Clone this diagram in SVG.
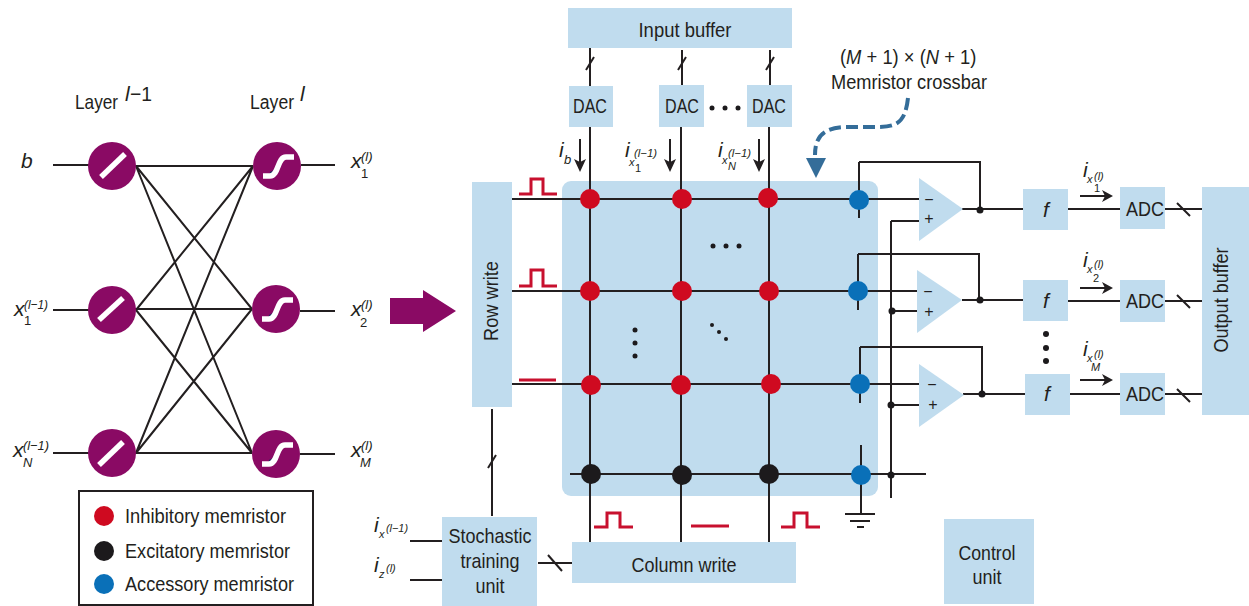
<svg xmlns="http://www.w3.org/2000/svg" width="1249" height="606" viewBox="0 0 1249 606">
<style>
text{font-family:"Liberation Sans",Arial,sans-serif;fill:#231f20;font-size:21px}
.c{text-anchor:middle}
.i{font-style:italic}
.box{fill:#c0dcee}
.l{fill:none;stroke:#231f20;stroke-width:2}
.p{fill:none;stroke:#c8102e;stroke-width:3}
.n{fill:#8a0a64}
.g{fill:none;stroke:#fff;stroke-width:5.5}
.sh{fill:none;stroke:#1c2a5c;stroke-width:2}
.r{fill:#cf0a20}.k{fill:#1c1a1c}.b{fill:#0a70b8}
.s{font-size:11px}.m{font-size:13px}.o{font-size:16px}
</style>
<rect width="1249" height="606" fill="#fff"/>
<g id="crossbar"><rect class="box" x="562" y="181" width="316" height="315" rx="9"/></g>
<g id="connectors">
<path class="l" d="M53 165H112M134 166H253M301 165H335M53 310H112M134 309H252M300 311H335M53 453H112M134 453H252M300 454H335"/>
<path class="l" d="M136 166L252 309M136 166L252 453M136 310L253 166M136 310L252 453M136 453L253 166M136 453L252 309"/>
<path class="l" d="M512 199H920M512 291H918M512 384H920M570 474H926"/>
<path class="l" d="M590 105V542M681 105V542M769 105V542M590 48V88M682 50V88M770 50V88"/>
<path class="l" d="M859 162V218M859 162H980V209M858 254V310M858 254H979V300M860 347V403M860 347H982V394M861 445V514"/>
<path class="l" d="M891 221H919M891 221V498M891 311H917M891 405H919"/>
<path class="l" d="M962 209H1023M1068 209H1120M1165 209H1202M962 300H1023M1068 301H1120M1165 301H1202M963 394H1025M1070 394H1120M1165 394H1202"/>
<path class="l" d="M845 514H875M850 521H870M857 527H864"/>
<path class="l" d="M492 409V516M410 541H442M410 580H442M538 563H572"/>
<path class="l" d="M586 70L594 57M678 70L686 57M766 70L774 57M488 468L496 455M548 555L562 571M1177 203L1190 216M1177 295L1190 308M1177 389L1190 402"/>
<path class="l" d="M580 139V165M670 139V165M759 139V165M1080 196H1106M1080 288H1106M1080 380H1106"/>
<path d="M574 159L580 162L586 159L580 172ZM664 159L670 162L676 159L670 172ZM753 159L759 162L765 159L759 172ZM1102 190L1105 196L1102 202L1113 196ZM1102 282L1105 288L1102 294L1113 288ZM1102 374L1105 380L1102 386L1113 380Z" fill="#231f20"/>
<path class="p" d="M519 194H531V179H543V194H557M519 286H531V270H543V286H557M519 380H556M594 527H607V513H620V527H633M691 526H729M781 527H794V513H807V527H820"/>
<path d="M908 98C905 125 895 127 875 127H845C825 128 815 135 815 155" fill="none" stroke="#346d99" stroke-width="4" stroke-dasharray="12 5"/>
<path d="M806 158H826L816 178Z" fill="#346d99"/>
<path d="M390 298H423V290L456 311L423 332V324H390Z" fill="#8a0a64"/>
</g>
<g id="input-buffer"><rect class="box" x="568" y="8" width="224" height="40"/><text class="c" x="685" y="37" textLength="93" lengthAdjust="spacingAndGlyphs">Input buffer</text></g>
<g id="dac-1"><rect class="box" x="569" y="86" width="44" height="41"/><text class="c" x="590" y="113" textLength="34" lengthAdjust="spacingAndGlyphs">DAC</text></g>
<g id="dac-2"><rect class="box" x="659" y="85" width="45" height="42"/><text class="c" x="682" y="113" textLength="34" lengthAdjust="spacingAndGlyphs">DAC</text></g>
<g id="dac-3"><rect class="box" x="747" y="85" width="45" height="42"/><text class="c" x="769" y="113" textLength="34" lengthAdjust="spacingAndGlyphs">DAC</text></g>
<g id="row-write"><rect class="box" x="472" y="182" width="40" height="225"/><text class="c" transform="translate(498 301) rotate(-90)" textLength="80" lengthAdjust="spacingAndGlyphs">Row write</text></g>
<g id="column-write"><rect class="box" x="572" y="542" width="224" height="41"/><text class="c" x="684" y="572" textLength="105" lengthAdjust="spacingAndGlyphs">Column write</text></g>
<g id="stochastic"><rect class="box" x="442" y="517" width="95" height="89"/><text class="c" x="490" y="543" textLength="83" lengthAdjust="spacingAndGlyphs">Stochastic</text><text class="c" x="490" y="568" textLength="59" lengthAdjust="spacingAndGlyphs">training</text><text class="c" x="490" y="593" textLength="29" lengthAdjust="spacingAndGlyphs">unit</text></g>
<g id="control"><rect class="box" x="944" y="519" width="90" height="85"/><text class="c" x="987" y="560" textLength="57" lengthAdjust="spacingAndGlyphs">Control</text><text class="c" x="987" y="584" textLength="29" lengthAdjust="spacingAndGlyphs">unit</text></g>
<g id="output-buffer"><rect class="box" x="1202" y="187" width="47" height="228"/><text class="c" transform="translate(1228 300) rotate(-90)" textLength="105" lengthAdjust="spacingAndGlyphs">Output buffer</text></g>
<g id="opamp-1"><path class="box" d="M919 178L963 209L919 241Z"/><text class="c o" x="929" y="205">−</text><text class="c o" x="929" y="224">+</text></g>
<g id="opamp-2"><path class="box" d="M917 270L962 300L917 333Z"/><text class="c o" x="928" y="297">−</text><text class="c o" x="929" y="317">+</text></g>
<g id="opamp-3"><path class="box" d="M919 364L964 395L919 427Z"/><text class="c o" x="932" y="390">−</text><text class="c o" x="933" y="410">+</text></g>
<g id="f-1"><rect class="box" x="1023" y="189" width="45" height="41"/><text class="c i" x="1046" y="217">f</text></g>
<g id="f-2"><rect class="box" x="1023" y="280" width="45" height="41"/><text class="c i" x="1046" y="308">f</text></g>
<g id="f-3"><rect class="box" x="1025" y="374" width="45" height="41"/><text class="c i" x="1047" y="401">f</text></g>
<g id="adc-1"><rect class="box" x="1120" y="187" width="45" height="42"/><text class="c" x="1145" y="216" textLength="38" lengthAdjust="spacingAndGlyphs">ADC</text></g>
<g id="adc-2"><rect class="box" x="1120" y="280" width="45" height="42"/><text class="c" x="1145" y="308" textLength="38" lengthAdjust="spacingAndGlyphs">ADC</text></g>
<g id="adc-3"><rect class="box" x="1120" y="373" width="45" height="42"/><text class="c" x="1145" y="401" textLength="38" lengthAdjust="spacingAndGlyphs">ADC</text></g>
<g id="memristors">
<circle class="r" cx="590" cy="199" r="10"/><circle class="r" cx="682" cy="199" r="10"/><circle class="r" cx="768" cy="198" r="10"/><circle class="b" cx="859" cy="200" r="10"/>
<circle class="r" cx="590" cy="291" r="10"/><circle class="r" cx="682" cy="291" r="10"/><circle class="r" cx="769" cy="291" r="10"/><circle class="b" cx="858" cy="291" r="10"/>
<circle class="r" cx="591" cy="385" r="10"/><circle class="r" cx="681" cy="385" r="10"/><circle class="r" cx="771" cy="384" r="10"/><circle class="b" cx="860" cy="384" r="10"/>
<circle class="k" cx="591" cy="474" r="10"/><circle class="k" cx="682" cy="475" r="10"/><circle class="k" cx="769" cy="474" r="10"/><circle class="b" cx="861" cy="475" r="10"/>
<circle class="k" cx="980" cy="210" r="3.5"/><circle class="k" cx="980" cy="300" r="3.5"/><circle class="k" cx="982" cy="394" r="3.5"/><circle class="k" cx="892" cy="311" r="3.5"/><circle class="k" cx="891" cy="405" r="3.5"/><circle class="k" cx="891" cy="475" r="3.5"/>
<circle class="k" cx="712" cy="108" r="2.5"/><circle class="k" cx="725" cy="108" r="2.5"/><circle class="k" cx="738" cy="108" r="2.5"/>
<circle class="k" cx="713" cy="246" r="2.5"/><circle class="k" cx="726" cy="246" r="2.5"/><circle class="k" cx="739" cy="246" r="2.5"/>
<circle class="k" cx="635" cy="330" r="2.5"/><circle class="k" cx="635" cy="343" r="2.5"/><circle class="k" cx="635" cy="356" r="2.5"/>
<circle class="k" cx="712" cy="325" r="2"/><circle class="k" cx="719" cy="332" r="2"/><circle class="k" cx="726" cy="339" r="2"/>
<circle class="k" cx="1046" cy="334" r="3"/><circle class="k" cx="1046" cy="348" r="3"/><circle class="k" cx="1046" cy="361" r="3"/>
</g>
<g id="neuron-1"><circle class="n" cx="112" cy="166" r="24"/><path class="g" d="M101 177L125 154"/></g>
<g id="neuron-2"><circle class="n" cx="112" cy="310" r="24"/><path class="g" d="M99 320L123 298"/></g>
<g id="neuron-3"><circle class="n" cx="112" cy="453" r="24"/><path class="g" d="M99 465L123 442"/></g>
<g id="neuron-4"><circle class="n" cx="277" cy="166" r="24"/><path class="sh" d="M270 173C277 172 278 162 283 159"/><path class="g" d="M263 176H270C279 176 277 157 286 157H294"/></g>
<g id="neuron-5"><circle class="n" cx="276" cy="309" r="24"/><path class="sh" d="M269 316C276 315 277 305 282 302"/><path class="g" d="M262 319H269C278 319 276 300 285 300H293"/></g>
<g id="neuron-6"><circle class="n" cx="276" cy="454" r="24"/><path class="sh" d="M269 461C276 460 277 450 282 447"/><path class="g" d="M262 464H269C278 464 276 445 285 445H293"/></g>
<g id="labels">
<text transform="translate(75 109) scale(.82 1)">Layer</text><text class="i" x="125" y="101">l</text><text x="130" y="101" textLength="22" lengthAdjust="spacingAndGlyphs">−1</text>
<text transform="translate(250 109) scale(.84 1)">Layer</text><text class="i" x="300" y="101">l</text>
<text class="i" x="21" y="168">b</text>
<text class="i" x="351" y="168">x</text><text class="m i" x="361" y="161">(l)</text><text class="m" x="361" y="178">1</text>
<text class="i" x="351" y="316">x</text><text class="m i" x="361" y="309">(l)</text><text class="m" x="360" y="327">2</text>
<text class="i" x="351" y="457">x</text><text class="m i" x="361" y="450">(l)</text><text class="m i" x="360" y="467">M</text>
<text class="i" x="14" y="316">x</text><text class="m i" x="24" y="309" textLength="24" lengthAdjust="spacingAndGlyphs">(l−1)</text><text class="m" x="24" y="325">1</text>
<text class="i" x="13" y="457">x</text><text class="m i" x="23" y="450" textLength="26" lengthAdjust="spacingAndGlyphs">(l−1)</text><text class="m i" x="23" y="467">N</text>
<text class="i" x="559" y="157">i</text><text class="m i" x="564" y="164">b</text>
<text class="i" x="625" y="157">i</text><text class="s i" x="629" y="166">x</text><text class="s" x="635" y="172">1</text><text class="s i" x="634" y="157" textLength="23" lengthAdjust="spacingAndGlyphs">(l−1)</text>
<text class="i" x="718" y="157">i</text><text class="s i" x="722" y="164">x</text><text class="s i" x="728" y="170">N</text><text class="s i" x="728" y="157" textLength="23" lengthAdjust="spacingAndGlyphs">(l−1)</text>
<text class="i" x="1083" y="177">i</text><text class="s i" x="1087" y="183">x</text><text class="s" x="1094" y="192">1</text><text class="s i" x="1094" y="180">(l)</text>
<text class="i" x="1083" y="267">i</text><text class="s i" x="1087" y="273">x</text><text class="s" x="1093" y="282">2</text><text class="s i" x="1094" y="268">(l)</text>
<text class="i" x="1083" y="356">i</text><text class="s i" x="1087" y="362">x</text><text class="s i" x="1091" y="371">M</text><text class="s i" x="1094" y="358">(l)</text>
<text class="i" x="374" y="532">i</text><text class="s i" x="379" y="538">x</text><text class="s i" x="386" y="532" textLength="22" lengthAdjust="spacingAndGlyphs">(l−1)</text>
<text class="i" x="374" y="572">i</text><text class="s i" x="379" y="578">z</text><text class="s i" x="386" y="572">(l)</text>
<text transform="translate(840 64) scale(.92 1)" style="font-size:20px">(<tspan class="i">M</tspan> + 1) × (<tspan class="i">N</tspan> + 1)</text>
<text class="c" x="909" y="89" textLength="156" lengthAdjust="spacingAndGlyphs">Memristor crossbar</text>
</g>
<g id="legend">
<rect x="79" y="491" width="234" height="114" fill="#fff" stroke="#231f20" stroke-width="2"/>
<text x="125" y="523" textLength="161" lengthAdjust="spacingAndGlyphs">Inhibitory memristor</text>
<text x="125" y="558" textLength="165" lengthAdjust="spacingAndGlyphs">Excitatory memristor</text>
<text x="125" y="591" textLength="169" lengthAdjust="spacingAndGlyphs">Accessory memristor</text>
<circle class="r" cx="104" cy="516" r="10"/><circle class="k" cx="104" cy="551" r="10"/><circle class="b" cx="104" cy="584" r="10"/>
</g>
</svg>
